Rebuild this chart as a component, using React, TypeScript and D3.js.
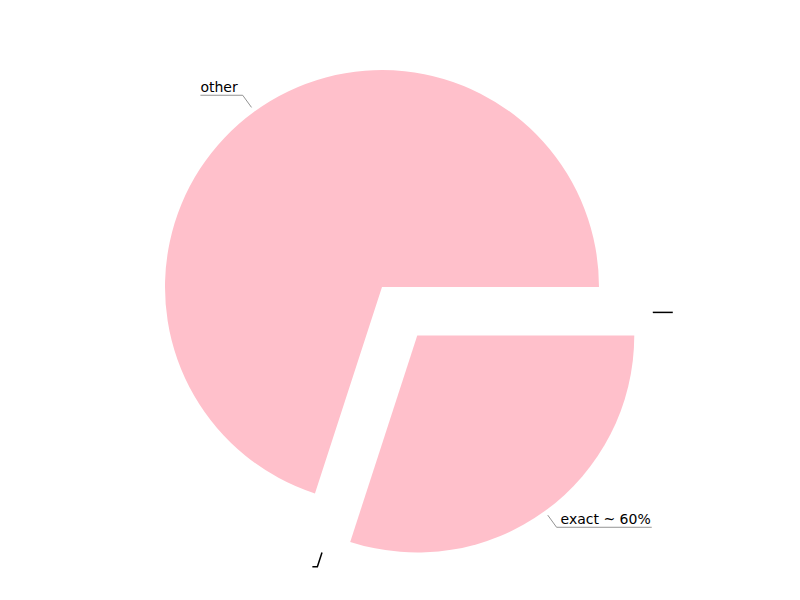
import React, { useEffect, useRef } from 'react';
import * as d3 from 'd3';

// slices, clockwise from 3 o'clock
const labels = ['exact ~ 60%', '', 'other', ''];
const values = [30, 0, 70, 0];
const explode = [60, 55, 0, 55];
// the empty-label wedges are pushed off-bisector (degrees, screen coords)
const pushDir = [null, 81, null, 27.5];

const App = () => {
  const ref = useRef<SVGSVGElement>(null);

  useEffect(() => {
    const svg = d3.select(ref.current);
    svg.selectAll('*').remove();

    const cx = 382;
    const cy = 287;
    const radius = 217;

    const data = labels.map((label, i) => ({ label, value: values[i], explode: explode[i], dir: pushDir[i] }));

    const pie = d3
      .pie<any>()
      .value((d) => d.value)
      .sort(null)
      .startAngle(Math.PI / 2)
      .endAngle(Math.PI / 2 + Math.PI * 2);
    const arc = d3.arc<any>().innerRadius(0).outerRadius(radius);

    const g = svg.append('g').attr('transform', `translate(${cx},${cy})`);

    pie(data).forEach((d) => {
      const mid = (d.startAngle + d.endAngle) / 2;
      const ux = Math.sin(mid);
      const uy = -Math.cos(mid);
      let ox = ux * d.data.explode;
      let oy = uy * d.data.explode;
      if (d.data.dir != null) {
        const a = (d.data.dir * Math.PI) / 180;
        ox = Math.cos(a) * d.data.explode;
        oy = Math.sin(a) * d.data.explode;
      }
      const slice = g.append('g').attr('transform', `translate(${ox},${oy})`);

      if (d.data.value > 0) {
        slice.append('path').attr('d', arc(d)).attr('fill', 'pink');
      }

      const ghost = d.data.label === '';
      const p0 = [ux * (radius + 5), uy * (radius + 5)];
      const p1 = [ux * (radius + 20), uy * (radius + 20)];
      const right = ux >= 0;

      const text = slice
        .append('text')
        .attr('font-family', 'DejaVu Sans, sans-serif')
        .attr('font-size', 14)
        .attr('fill', '#000')
        .text(d.data.label);
      const tw = ghost ? 0 : (text.node() as SVGTextElement).getComputedTextLength();
      const len = ghost ? 5 : tw + 5;
      const p2 = [p1[0] + (right ? len : -len), p1[1]];

      text
        .attr('x', right ? p1[0] + 4 : p1[0] - 5)
        .attr('y', p1[1] - 3)
        .attr('text-anchor', right ? 'start' : 'end');

      slice
        .append('polyline')
        .attr('points', [p0, p1, p2].map((p) => p.join(',')).join(' '))
        .attr('fill', 'none')
        .attr('stroke', ghost ? '#000' : '#777')
        .attr('stroke-width', ghost ? 1.5 : 0.8);
    });
  }, []);

  return (
    <svg
      ref={ref}
      width={800}
      height={600}
      style={{ position: 'absolute', left: 0, top: 0, background: '#fff' }}
    />
  );
};

export default App;
